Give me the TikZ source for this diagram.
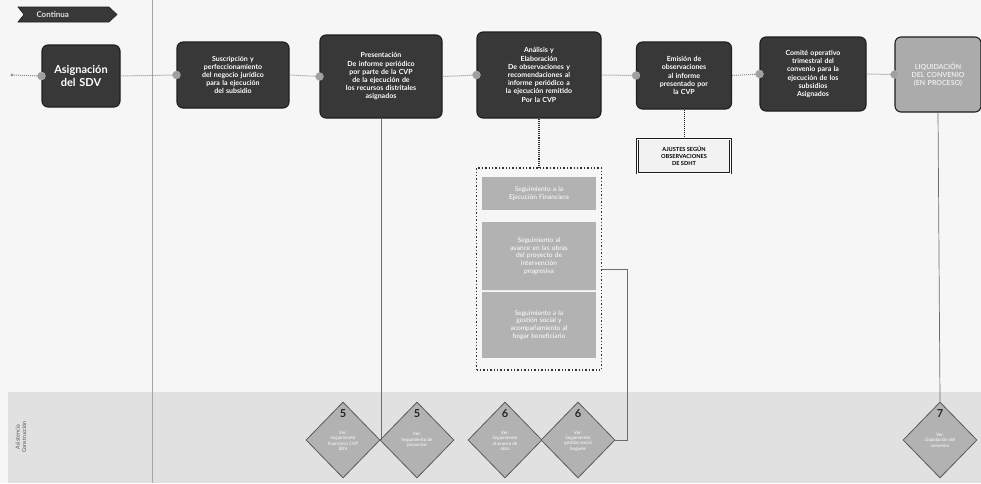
\documentclass[tikz,border=0pt]{standalone}
\usepackage{fontspec}
\setmainfont{Lato}
\usetikzlibrary{shapes.geometric,calc}
\definecolor{boxdark}{HTML}{383838}
\definecolor{boxedge}{HTML}{1E1E1E}
\definecolor{boxlight}{HTML}{ABABAB}
\definecolor{subgray}{HTML}{B2B2B2}
\definecolor{lanegray}{HTML}{E1E1E1}
\definecolor{paper}{HTML}{F6F6F6}
\definecolor{linegray}{HTML}{8C8C8C}
\tikzset{
  stepbox/.style={draw=boxedge, line width=1.1pt, fill=boxdark, rounded corners=6pt,
    text=white, align=center, inner sep=2pt,
    font=\fontsize{7}{8.2}\selectfont\bfseries},
  endbox/.style={stepbox, fill=boxlight, text=white!92!black},
  flowdot/.style={circle, fill=gray!75, draw=gray!60, inner sep=0pt, minimum size=8pt},
  flowline/.style={draw=linegray, line width=1pt, densely dotted},
  dropline/.style={draw=gray!85!black, line width=0.7pt},
  subbox/.style={fill=subgray, draw=none, text=white, align=center,
    font=\fontsize{6.6}{7.8}\selectfont},
  refdiamond/.style={diamond, draw=gray!70!black, line width=0.8pt, fill=subgray,
    inner sep=0pt, minimum width=74pt, minimum height=76pt},
  diamondtext/.style={align=center, text=white, font=\fontsize{4.6}{5.4}\selectfont},
  diamondnum/.style={text=black!85, font=\fontsize{11}{11}\selectfont\bfseries}
}
\begin{document}
\begin{tikzpicture}[x=1pt,y=-1pt]
  % page and swim-lane background
  \fill[paper] (0,0) rectangle (981,483);
  \useasboundingbox (0,0) rectangle (981,483);
  \fill[lanegray] (8,392) rectangle (981,483);
  \draw[gray!70, line width=0.8pt] (152,0) -- (152,483);

  % "Continua" tag: a notched arrow banner
  \fill[boxdark, draw=boxedge, line width=0.6pt]
    (18,7) -- (109,7) -- (117,14.5) -- (109,22) -- (18,22) -- (24,14.5) -- cycle;
  \node[text=white!88!black, font=\fontsize{8}{8}\selectfont\bfseries, anchor=west]
    (cont) at (33,14.5) {Continua};

  % process boxes along the main flow
  \node[stepbox, minimum width=78pt, minimum height=62pt, text width=70pt,
        font=\fontsize{11}{12.5}\selectfont\bfseries] (b1) at (81,76) {Asignación\\del SDV};
  \node[stepbox, minimum width=112pt, minimum height=66pt, text width=104pt] (b2) at (233,75)
    {Suscripción y\\perfeccionamiento\\del negocio jurídico\\para la ejecución\\del subsidio};
  \node[stepbox, minimum width=122pt, minimum height=83pt, text width=116pt] (b3) at (381,76.5)
    {Presentación\\De informe periódico\\por parte de la CVP\\de la ejecución de\\los recursos distritales\\asignados};
  \node[stepbox, minimum width=124pt, minimum height=86pt, text width=118pt] (b4) at (539,75)
    {Análisis y\\Elaboración\\De observaciones y\\recomendaciones al\\informe periódico a\\la ejecución remitido\\Por la CVP};
  \node[stepbox, minimum width=95pt, minimum height=67pt, text width=88pt] (b5) at (684,75.5)
    {Emisión de\\observaciones\\al informe\\presentado por\\la CVP};
  \node[stepbox, minimum width=106pt, minimum height=74pt, text width=100pt] (b6) at (813,74)
    {Comité operativo\\trimestral del\\convenio para la\\ejecución de los\\subsidios\\Asignados};
  \node[endbox, minimum width=86pt, minimum height=75pt, text width=82pt] (b7) at (938,74.5)
    {LIQUIDACIÓN\\DEL CONVENIO\\(EN PROCESO)};

  % main dotted flow line with entry dots
  \coordinate (start) at (12,75);
  \fill[gray!80] (start) circle (1.6pt);
  \draw[flowline] (start) -- (b1.west);
  \draw[flowline] (b1.east) -- (b2.west);
  \draw[flowline] (b2.east) -- (b3.west);
  \draw[flowline] (b3.east) -- (b4.west);
  \draw[flowline] (b4.east) -- (b5.west);
  \draw[flowline] (b5.east) -- (b6.west);
  \draw[flowline] (b6.east) -- (b7.west);
  \foreach \b in {b1,b2,b3,b4,b5,b6,b7} {
    \node[flowdot] (dot-\b) at (\b.west) {};
  }

  % adjustments box under the observations step
  \node[draw=boxedge, line width=1pt, double=white, double distance=0.6pt, fill=white!90!gray,
        minimum width=93pt, minimum height=34pt, align=center,
        font=\fontsize{5.6}{6.8}\selectfont\bfseries] (adj) at (684,156)
    {AJUSTES SEGÚN\\OBSERVACIONES\\DE SDHT};
  \draw[draw=boxedge, line width=1pt, densely dotted] (b5.south) -- (adj.north);

  % follow-up group under the analysis step
  \node[subbox, minimum width=113pt, minimum height=33pt, text width=108pt] (s1) at (539,193.5)
    {Seguimiento a la\\Ejecución Financiera};
  \node[subbox, minimum width=113pt, minimum height=68pt, text width=108pt] (s2) at (539,256)
    {Seguimiento al\\avance en las obras\\del proyecto de\\intervención\\progresiva};
  \node[subbox, minimum width=113pt, minimum height=66pt, text width=108pt] (s3) at (539,325)
    {Seguimiento a la\\gestión social y\\acompañamiento al\\hogar beneficiario};
  \draw[white!85!gray, line width=0.8pt] (s2.south west) -- (s2.south east);
  \node[draw=black!80, line width=1.4pt, dotted, minimum width=125pt, minimum height=202pt,
        inner sep=0pt] (grp) at (539,269) {};
  \draw[draw=black!80, line width=1.1pt, densely dotted] (b4.south) -- (grp.north);

  % reference diamonds in the lower lane
  \node[refdiamond] (d1) at (343,440) {};
  \node[refdiamond] (d2) at (417,440) {};
  \node[refdiamond] (d3) at (505,440) {};
  \node[refdiamond] (d4) at (578,440) {};
  \node[refdiamond] (d5) at (940,440) {};
  \node[diamondnum] (n1) at (343,414) {5};
  \node[diamondnum] (n2) at (417,414) {5};
  \node[diamondnum] (n3) at (505,414) {6};
  \node[diamondnum] (n4) at (578,414) {6};
  \node[diamondnum] (n5) at (940,414) {7};
  \node[diamondtext] (t1) at (343,441) {Ver:\\Seguimiento\\financiero CVP\\SDV};
  \node[diamondtext] (t2) at (417,440) {Ver:\\Seguimiento de\\proyectos};
  \node[diamondtext] (t3) at (505,441) {Ver:\\Seguimiento\\al avance de\\obra};
  \node[diamondtext] (t4) at (578,441) {Ver:\\Seguimiento\\gestión social\\hogares};
  \node[diamondtext] (t5) at (940,440) {Ver:\\Liquidación del\\convenio};

  % drop lines from the steps to their diamonds
  \draw[dropline] (b3.south) -- (b3.south |- d1.east);
  \coordinate (elbow) at (627,300);
  \draw[dropline] (grp.east) -- (grp.east -| elbow) -- (elbow |- d4.east) -- (d4.east);
  \draw[dropline] (b7.south) -- (d5.north);

  % lane label
  \node[rotate=90, align=center, text=gray!65!black, font=\fontsize{5.5}{6.5}\selectfont]
    (lane) at (21,437) {Asistencia\\Construcción};
\end{tikzpicture}
\end{document}
